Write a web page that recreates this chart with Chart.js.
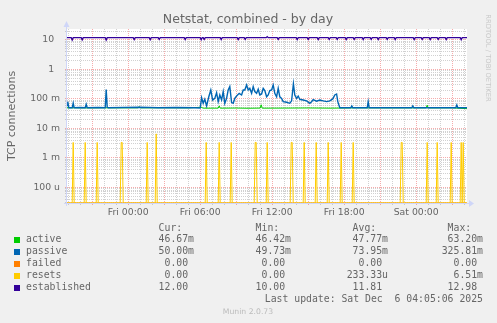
<!DOCTYPE html>
<html>
<head>
<meta charset="utf-8">
<script src="https://cdn.jsdelivr.net/npm/chart.js@4.4.0/dist/chart.umd.min.js"></script>
<style>
  html, body { margin: 0; padding: 0; background: #f0f0f0; }
  canvas { display: block; }
</style>
</head>
<body>
<canvas id="netstat" width="497" height="323"></canvas>
<script>
// ── Data ──────────────────────────────────────────────────────────────────

const rangeStart = 'Thu 18:54';
const rangeEnd = 'Sat 04:14';

const xTickHours = [0, 6, 12, 18, 24];
const xTickLabels = ['Fri 00:00', 'Fri 06:00', 'Fri 12:00', 'Fri 18:00', 'Sat 00:00'];

const yMin = 2.93e-5;
const yMax = 23.6;
const yTickValues = [1e-4, 1e-3, 1e-2, 1e-1, 1, 10];
const yTickLabels = ['100 u', '1 m', '10 m', '100 m', '1', '10'];

const seriesNames = ['active', 'passive', 'failed', 'resets', 'established'];
const seriesColors = ['#00cc00', '#0066b3', '#ff8000', '#ffcc00', '#330099'];
const curText = ['46.67m', '50.00m', '0.00', '0.00', '12.00'];
const minText = ['46.42m', '49.73m', '0.00', '0.00', '10.00'];
const avgText = ['47.77m', '73.95m', '0.00', '233.33u', '11.81'];
const maxText = ['63.20m', '325.81m', '0.00', '6.51m', '12.98'];

const active = [
  ['Thu 18:54', 0.0498], ['Thu 19:30', 0.0500], ['Thu 20:40', 0.0495], ['Thu 21:50', 0.0500],
  ['Thu 22:30', 0.0497], ['Fri 00:50', 0.0498], ['Fri 00:55', 0.0550], ['Fri 01:00', 0.0497],
  ['Fri 03:00', 0.0500], ['Fri 05:00', 0.0496], ['Fri 06:05', 0.0520], ['Fri 06:15', 0.0485],
  ['Fri 07:30', 0.0485], ['Fri 07:35', 0.0580], ['Fri 07:40', 0.0485], ['Fri 09:00', 0.0490],
  ['Fri 10:00', 0.0482], ['Fri 11:00', 0.0488], ['Fri 11:05', 0.0632], ['Fri 11:10', 0.0485],
  ['Fri 13:00', 0.0488], ['Fri 15:00', 0.0492], ['Fri 17:00', 0.0485], ['Fri 19:00', 0.0498],
  ['Fri 21:00', 0.0496], ['Sat 00:50', 0.0497], ['Sat 00:55', 0.0610], ['Sat 01:00', 0.0495],
  ['Sat 03:00', 0.0498], ['Sat 04:14', 0.04667]
];

const passive = [
  ['Thu 18:54', 0.060], ['Thu 18:58', 0.080], ['Thu 19:03', 0.050], ['Thu 19:20', 0.050],
  ['Thu 19:25', 0.072], ['Thu 19:30', 0.050], ['Thu 20:00', 0.051], ['Thu 20:25', 0.050],
  ['Thu 20:30', 0.066], ['Thu 20:35', 0.050], ['Thu 21:30', 0.051], ['Thu 22:05', 0.050],
  ['Thu 22:10', 0.210], ['Thu 22:15', 0.052], ['Thu 22:20', 0.050], ['Thu 23:40', 0.051],
  ['Fri 00:55', 0.052], ['Fri 02:30', 0.050], ['Fri 04:00', 0.051], ['Fri 05:30', 0.050],
  ['Fri 06:00', 0.049], ['Fri 06:07', 0.110], ['Fri 06:15', 0.071], ['Fri 06:23', 0.097],
  ['Fri 06:32', 0.058], ['Fri 06:43', 0.118], ['Fri 06:53', 0.201], ['Fri 07:02', 0.092],
  ['Fri 07:13', 0.104], ['Fri 07:22', 0.163], ['Fri 07:30', 0.081], ['Fri 07:38', 0.136],
  ['Fri 07:47', 0.092], ['Fri 07:55', 0.177], ['Fri 08:03', 0.071], ['Fri 08:12', 0.104],
  ['Fri 08:20', 0.201], ['Fri 08:28', 0.262], ['Fri 08:37', 0.075], ['Fri 08:45', 0.071],
  ['Fri 08:53', 0.104], ['Fri 09:02', 0.125], ['Fri 09:15', 0.155], ['Fri 09:27', 0.136],
  ['Fri 09:35', 0.201], ['Fri 09:43', 0.201], ['Fri 09:52', 0.297], ['Fri 10:00', 0.201],
  ['Fri 10:08', 0.229], ['Fri 10:17', 0.155], ['Fri 10:25', 0.262], ['Fri 10:33', 0.177],
  ['Fri 10:42', 0.155], ['Fri 10:50', 0.213], ['Fri 10:58', 0.136], ['Fri 11:07', 0.147],
  ['Fri 11:15', 0.229], ['Fri 11:23', 0.191], ['Fri 11:32', 0.118], ['Fri 11:40', 0.136],
  ['Fri 11:48', 0.191], ['Fri 11:57', 0.201], ['Fri 12:05', 0.297], ['Fri 12:13', 0.155],
  ['Fri 12:22', 0.118], ['Fri 12:30', 0.229], ['Fri 12:38', 0.118], ['Fri 12:47', 0.104],
  ['Fri 12:55', 0.081], ['Fri 13:12', 0.077], ['Fri 13:28', 0.071], ['Fri 13:37', 0.086],
  ['Fri 13:46', 0.326], ['Fri 13:53', 0.136], ['Fri 14:02', 0.104], ['Fri 14:10', 0.125],
  ['Fri 14:18', 0.097], ['Fri 14:35', 0.092], ['Fri 14:52', 0.086], ['Fri 15:08', 0.071],
  ['Fri 15:17', 0.080], ['Fri 15:25', 0.095], ['Fri 15:42', 0.084], ['Fri 15:58', 0.092],
  ['Fri 16:15', 0.086], ['Fri 16:33', 0.081], ['Fri 16:48', 0.086], ['Fri 17:03', 0.100],
  ['Fri 17:13', 0.136], ['Fri 17:22', 0.147], ['Fri 17:28', 0.081], ['Fri 17:38', 0.050],
  ['Fri 18:33', 0.050], ['Fri 18:38', 0.058], ['Fri 18:43', 0.050], ['Fri 19:55', 0.050],
  ['Fri 20:00', 0.080], ['Fri 20:05', 0.050], ['Fri 23:38', 0.050], ['Fri 23:43', 0.058],
  ['Fri 23:48', 0.050], ['Sat 03:18', 0.050], ['Sat 03:23', 0.062], ['Sat 03:28', 0.050],
  ['Sat 04:14', 0.050]
];

const failed = [['Thu 18:54', 0], ['Sat 04:14', 0]];

// resets are 0 except for these samples
const resetLevel = 0;
const resetSpikes = [
  ['Thu 19:25', 0.00333], ['Thu 20:25', 0.00333], ['Thu 21:25', 0.00333], ['Thu 23:25', 0.00333],
  ['Thu 23:30', 0.00333], ['Fri 01:35', 0.00333], ['Fri 02:20', 0.00651], ['Fri 06:30', 0.00333],
  ['Fri 07:35', 0.00333], ['Fri 08:35', 0.00333], ['Fri 10:35', 0.00333], ['Fri 10:40', 0.00333],
  ['Fri 11:35', 0.00333], ['Fri 13:35', 0.00333], ['Fri 13:40', 0.00333], ['Fri 14:40', 0.00333],
  ['Fri 15:40', 0.00333], ['Fri 16:40', 0.00333], ['Fri 17:45', 0.00333], ['Fri 18:45', 0.00333],
  ['Fri 22:45', 0.00333], ['Fri 22:50', 0.00333], ['Sat 00:55', 0.00333], ['Sat 01:45', 0.00333],
  ['Sat 02:55', 0.00333], ['Sat 03:45', 0.00333], ['Sat 03:55', 0.00333]
];

// established sits at 12 with short dips
const establishedLevel = 12;
const establishedDips = [
  ['Thu 19:20', 10.0], ['Thu 20:10', 10.1], ['Thu 22:10', 10.0], ['Fri 00:30', 10.3],
  ['Fri 01:50', 10.2], ['Fri 02:35', 10.4], ['Fri 04:45', 10.3], ['Fri 06:05', 10.2],
  ['Fri 06:20', 10.4], ['Fri 07:45', 10.3], ['Fri 09:10', 10.3], ['Fri 09:45', 10.4],
  ['Fri 11:35', 12.98], ['Fri 12:30', 10.4], ['Fri 14:05', 10.3], ['Fri 15:00', 10.4],
  ['Fri 15:50', 10.3], ['Fri 16:45', 10.4], ['Fri 17:25', 10.4], ['Fri 18:10', 10.3],
  ['Fri 18:50', 10.4], ['Fri 19:35', 10.3], ['Fri 20:15', 10.4], ['Fri 20:50', 10.3],
  ['Fri 21:35', 10.4], ['Fri 22:15', 10.3], ['Fri 23:50', 10.3], ['Sat 00:30', 10.4],
  ['Sat 01:10', 10.3], ['Sat 01:50', 10.4], ['Sat 02:30', 10.3], ['Sat 03:45', 10.2]
];

// ── Helpers ───────────────────────────────────────────────────────────────

const dayOffset = { Thu: -24, Fri: 0, Sat: 24 };
const STEP = 5 / 60; // one rrd sample, in hours

function hours(stamp) {
  const [day, hm] = stamp.split(' ');
  const [h, m] = hm.split(':').map(Number);
  return dayOffset[day] + h + m / 60;
}

// a log axis can't place 0, rrdtool pins it to the bottom edge
const onLog = v => (v > 0 ? v : yMin);

function toPoints(list) {
  return list.map(p => ({ x: hours(p[0]), y: onLog(p[1]) }));
}

// a flat level with single-sample excursions
function levelWithSpikes(level, list) {
  const ts = list.map(p => hours(p[0]));
  const base = onLog(level);
  const pts = [{ x: hours(rangeStart), y: base }];
  list.forEach((p, i) => {
    const t = ts[i];
    if (i === 0 || t - ts[i - 1] > STEP * 1.5) pts.push({ x: t - STEP, y: base });
    pts.push({ x: t, y: onLog(p[1]) });
    if (i === list.length - 1 || ts[i + 1] - t > STEP * 1.5) pts.push({ x: t + STEP, y: base });
  });
  pts.push({ x: hours(rangeEnd), y: base });
  return pts;
}

const GRID = 'rgba(140,140,140,0.40)';
const MGRID = 'rgba(235,70,70,0.45)';
const FONT = '#666666';
const AXIS = '#cfd6f8';

// ── Extra drawing: canvas, axes, arrows, title, legend table ──────────────

const munin = {
  id: 'munin',
  beforeDraw(chart) {
    const { ctx, chartArea: a } = chart;
    ctx.save();
    ctx.fillStyle = '#f0f0f0';
    ctx.fillRect(0, 0, chart.width, chart.height);
    ctx.fillStyle = '#ffffff';
    ctx.fillRect(a.left, a.top, a.right - a.left, a.bottom - a.top);
    ctx.restore();
  },
  afterDatasetsDraw(chart) {
    const { ctx, chartArea: a } = chart;
    ctx.save();
    ctx.strokeStyle = AXIS;
    ctx.fillStyle = AXIS;
    ctx.lineWidth = 1;
    ctx.beginPath();
    ctx.moveTo(a.left - 0.5, a.bottom + 3);
    ctx.lineTo(a.left - 0.5, a.top - 2);
    ctx.moveTo(a.left - 3, a.bottom + 0.5);
    ctx.lineTo(a.right + 3, a.bottom + 0.5);
    ctx.stroke();
    ctx.beginPath();
    ctx.moveTo(a.left - 3.5, a.top - 2);
    ctx.lineTo(a.left + 2.5, a.top - 2);
    ctx.lineTo(a.left - 0.5, a.top - 8);
    ctx.closePath();
    ctx.fill();
    ctx.beginPath();
    ctx.moveTo(a.right + 2, a.bottom - 3);
    ctx.lineTo(a.right + 2, a.bottom + 4);
    ctx.lineTo(a.right + 7, a.bottom + 0.5);
    ctx.closePath();
    ctx.fill();
    ctx.restore();
  },
  afterDraw(chart) {
    const { ctx } = chart;
    ctx.save();
    ctx.fillStyle = FONT;

    ctx.font = '12.5px "DejaVu Sans"';
    ctx.textAlign = 'center';
    ctx.textBaseline = 'alphabetic';
    ctx.fillText('Netstat, combined - by day', 248, 23);

    ctx.save();
    ctx.translate(15, 116);
    ctx.rotate(-Math.PI / 2);
    ctx.font = '11px "DejaVu Sans"';
    ctx.fillText('TCP connections', 0, 0);
    ctx.restore();

    ctx.save();
    ctx.translate(488, 58);
    ctx.rotate(Math.PI / 2);
    ctx.fillStyle = '#c8c8c8';
    ctx.font = '6.8px "DejaVu Sans"';
    ctx.textBaseline = 'middle';
    ctx.fillText('RRDTOOL / TOBI OETIKER', 0, 0);
    ctx.restore();

    ctx.fillStyle = '#bbbbbb';
    ctx.font = '7.7px "DejaVu Sans"';
    ctx.textBaseline = 'middle';
    ctx.fillText('Munin 2.0.73', 248, 312);

    // legend table, monospace columns like rrdtool's GPRINT
    ctx.font = '9.8px "DejaVu Sans Mono"';
    ctx.textAlign = 'left';
    ctx.fillStyle = FONT;
    const cw = ctx.measureText('0').width;
    const colEnd = [194, 291, 388, 483];
    const header = ['Cur:', 'Min:', 'Avg:', 'Max:'];
    header.forEach((h, c) => ctx.fillText(h, colEnd[c] - 6 * cw, 228));
    const cols = [curText, minText, avgText, maxText];
    seriesNames.forEach((name, r) => {
      const y = 239.7 + r * 12;
      ctx.fillStyle = seriesColors[r];
      ctx.fillRect(14, Math.round(y) - 3, 6, 6);
      ctx.fillStyle = FONT;
      ctx.fillText(name, 26, y);
      cols.forEach((col, c) => {
        let s = col[r];
        if (!/[a-z]$/.test(s)) s += ' ';
        ctx.fillText(s, colEnd[c] - s.length * cw, y);
      });
    });
    const upd = 'Last update: Sat Dec  6 04:05:06 2025';
    ctx.fillText(upd, 483 - upd.length * cw, 299.7);
    ctx.restore();
  }
};

// ── Chart ─────────────────────────────────────────────────────────────────

const line = (i, data, order, width = 1) => ({
  label: seriesNames[i],
  data,
  borderColor: seriesColors[i],
  borderWidth: width,
  pointRadius: 0,
  tension: 0,
  fill: false,
  order
});

new Chart(document.getElementById('netstat').getContext('2d'), {
  type: 'line',
  data: {
    datasets: [
      line(0, toPoints(active), 5),
      line(1, toPoints(passive), 4, 1.4),
      line(2, toPoints(failed), 3),
      line(3, levelWithSpikes(resetLevel, resetSpikes), 2),
      line(4, levelWithSpikes(establishedLevel, establishedDips), 1, 1.3)
    ]
  },
  options: {
    responsive: false,
    devicePixelRatio: 1,
    animation: false,
    layout: { padding: { left: 0, top: 29, right: 30, bottom: 0 } },
    plugins: { legend: { display: false }, tooltip: { enabled: false }, title: { display: false } },
    scales: {
      x: {
        type: 'linear',
        min: hours(rangeStart),
        max: hours(rangeEnd),
        afterBuildTicks(scale) {
          const ticks = [];
          for (let h = Math.ceil(scale.min); h <= Math.floor(scale.max); h++) ticks.push({ value: h });
          scale.ticks = ticks;
        },
        afterFit(scale) { scale.height = 120; },
        grid: {
          color: c => (c.tick && c.tick.value % 3 === 0 ? MGRID : GRID),
          tickColor: c => (c.tick && c.tick.value % 3 === 0 ? MGRID : GRID),
          tickLength: 2
        },
        border: { display: false, dash: [1, 1] },
        ticks: {
          autoSkip: false,
          maxRotation: 0,
          padding: 2,
          color: FONT,
          font: { family: 'DejaVu Sans', size: 9.3 },
          callback: v => {
            const i = xTickHours.indexOf(v);
            return i >= 0 ? xTickLabels[i] : '';
          }
        }
      },
      y: {
        type: 'logarithmic',
        min: yMin,
        max: yMax,
        afterBuildTicks(scale) {
          const ticks = [];
          for (let e = -5; e <= 1; e++) {
            for (let k = 1; k <= 9; k++) {
              const v = k * Math.pow(10, e);
              if (v >= scale.min && v <= scale.max) ticks.push({ value: v, major: k === 1 });
            }
          }
          scale.ticks = ticks;
        },
        afterFit(scale) { scale.width = 67; },
        grid: {
          color: c => (c.tick && c.tick.major ? MGRID : GRID),
          tickColor: c => (c.tick && c.tick.major ? MGRID : GRID),
          tickLength: 2
        },
        border: { display: false, dash: [1, 1] },
        ticks: {
          autoSkip: false,
          padding: 5,
          color: FONT,
          font: { family: 'DejaVu Sans', size: 9.3 },
          callback: v => {
            const i = yTickValues.findIndex(t => Math.abs(t - v) / t < 1e-6);
            if (i < 0) return '';
            const s = yTickLabels[i];
            return s.indexOf(' ') < 0 ? s + '  ' : s;
          }
        }
      }
    }
  },
  plugins: [munin]
});
</script>
</body>
</html>
